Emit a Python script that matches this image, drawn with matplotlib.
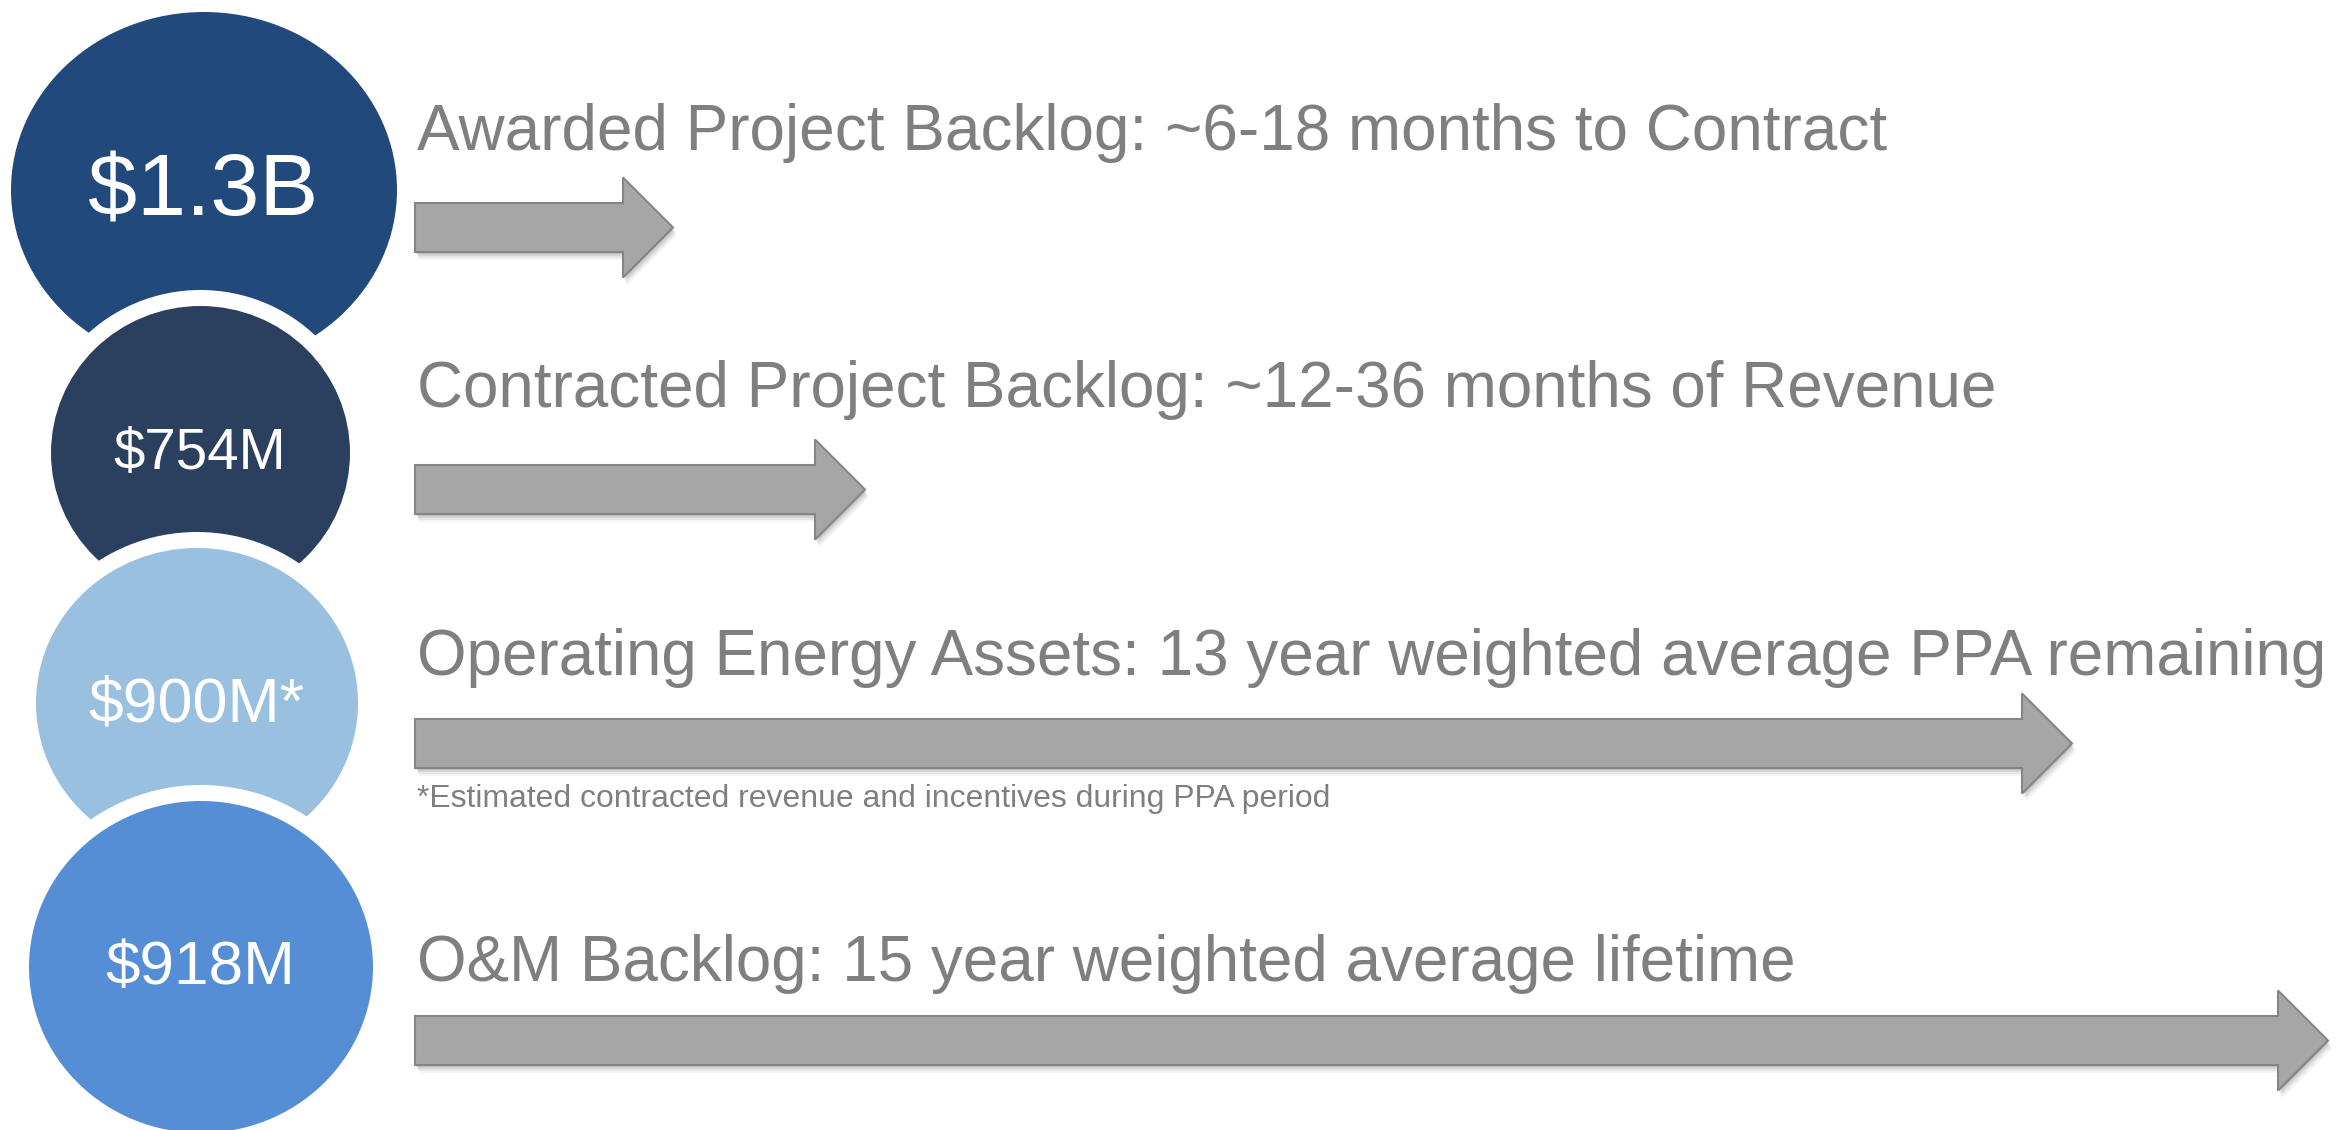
import matplotlib
matplotlib.use("Agg")
import matplotlib.pyplot as plt
from matplotlib.patches import Ellipse, Polygon

# ---- content ----
values = ["$1.3B", "$754M", "$900M*", "$918M"]
descriptions = [
    "Awarded Project Backlog: ~6-18 months to Contract",
    "Contracted Project Backlog: ~12-36 months of Revenue",
    "Operating Energy Assets: 13 year weighted average PPA remaining",
    "O&M Backlog: 15 year weighted average lifetime",
]
footnote = "*Estimated contracted revenue and incentives during PPA period"
circle_colors = ["#21497C", "#2B3F5F", "#9AC0DF", "#558ED5"]

# ---- layout (pixel space of the slide) ----
W, H = 2338, 1130
circles = [  # cx, cy, rx, ry
    (204, 190, 193, 178),
    (200.5, 453, 149.5, 147),
    (197, 703, 161, 155),
    (201, 967, 172, 166),
]
value_text = [  # x center, baseline, target width
    (203, 215, 231),
    (200, 469, 173),
    (196, 721, 216),
    (200, 984, 190),
]
arrows = [  # center y, tip x
    (227.5, 673),
    (489.5, 865),
    (743.5, 2072),
    (1040.5, 2328),
]
desc_text = [  # baseline, target width
    (150, 1472),
    (407, 1581),
    (675, 1912),
    (981, 1380),
]
foot_pos = (807, 910)
TEXT_X = 417
SHAFT_X = 415
SHAFT_HALF = 24.5
HEAD_HALF = 50
HEAD_LEN = 50
RING = 16

FONT = "Liberation Sans"
GRAY = "#7F7F7F"

fig = plt.figure(figsize=(W / 100, H / 100), dpi=100)
ax = fig.add_axes([0, 0, 1, 1])
ax.set_xlim(0, W)
ax.set_ylim(H, 0)
ax.axis("off")
renderer = fig.canvas.get_renderer()


def fit_text(x, y, s, target_w, ha, color, fs0):
    t = ax.text(x, y, s, ha=ha, va="baseline", color=color,
                fontsize=fs0, family=FONT, zorder=10)
    bb = t.get_window_extent(renderer=renderer)
    t.set_fontsize(fs0 * target_w / bb.width)
    return t


# circles (stacked, each lower one with a white ring over the one above)
for i, ((cx, cy, rx, ry), col) in enumerate(zip(circles, circle_colors)):
    z = 2 + i * 2
    if i > 0:
        ax.add_patch(Ellipse((cx, cy), 2 * (rx + RING), 2 * (ry + RING),
                             facecolor="white", edgecolor="none", zorder=z))
    ax.add_patch(Ellipse((cx, cy), 2 * rx, 2 * ry, facecolor=col,
                         edgecolor="none", zorder=z + 1))

for (x, base, tw), s in zip(value_text, values):
    fit_text(x, base, s, tw, "center", "white", 60)


def arrow_pts(cy, tip):
    xb = tip - HEAD_LEN
    return [
        (SHAFT_X, cy - SHAFT_HALF), (xb, cy - SHAFT_HALF), (xb, cy - HEAD_HALF),
        (tip, cy), (xb, cy + HEAD_HALF), (xb, cy + SHAFT_HALF),
        (SHAFT_X, cy + SHAFT_HALF),
    ]


for cy, tip in arrows:
    pts = arrow_pts(cy, tip)
    # soft drop shadow
    for dx, dy, a in [(1, 2, 0.10), (2, 4, 0.08), (3, 6, 0.06), (4, 8, 0.04)]:
        ax.add_patch(Polygon([(px + dx, py + dy) for px, py in pts],
                             closed=True, facecolor="#000000", alpha=a,
                             edgecolor="none", zorder=3))
    ax.add_patch(Polygon(pts, closed=True, facecolor="#A6A6A6",
                         edgecolor="#858585", linewidth=1.5, zorder=4,
                         joinstyle="miter"))

for (base, tw), s in zip(desc_text, descriptions):
    fit_text(TEXT_X, base, s, tw, "left", GRAY, 44)

fit_text(TEXT_X, foot_pos[0], footnote, foot_pos[1], "left", GRAY, 20)

fig.savefig("out.png", dpi=100, facecolor="white")
